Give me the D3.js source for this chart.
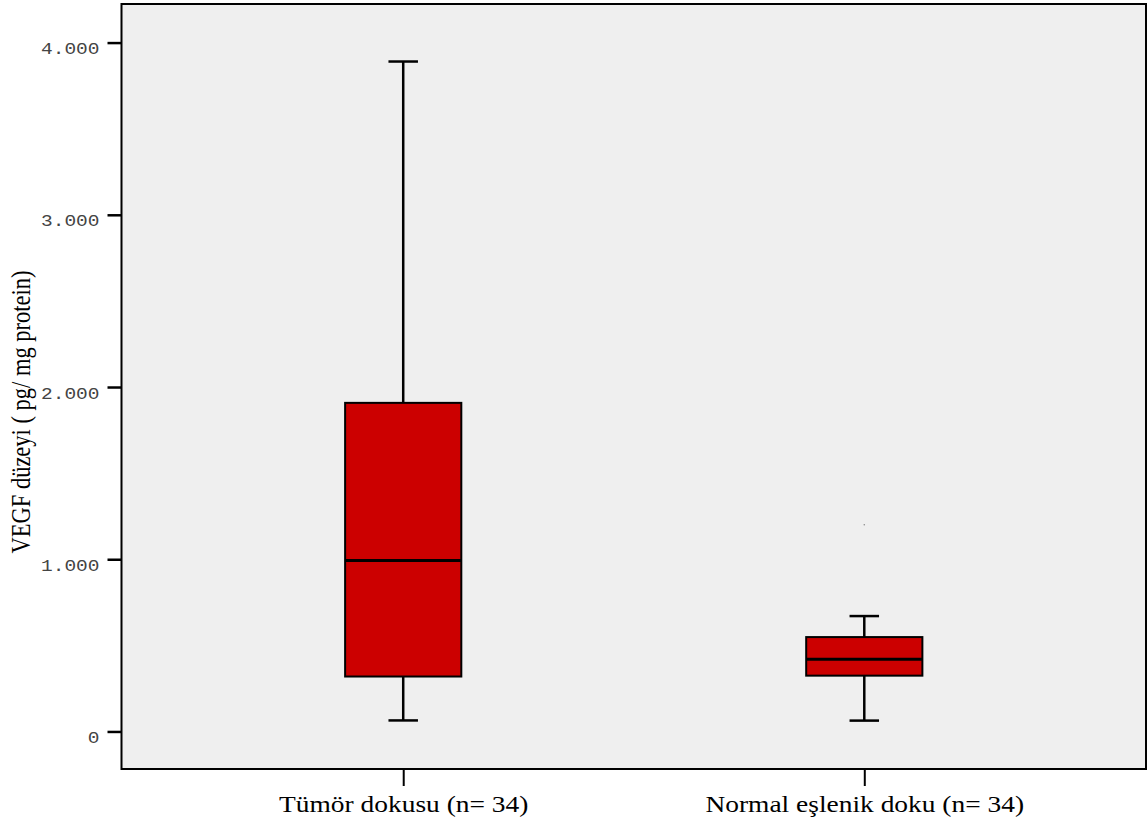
<!DOCTYPE html>
<html>
<head>
<meta charset="utf-8">
<script src="https://cdn.jsdelivr.net/npm/d3@7"></script>
<style>
  html, body { margin: 0; padding: 0; background: #ffffff; }
  svg { display: block; }
</style>
</head>
<body>
<svg id="chart" width="1148" height="828"></svg>
<script>
// Groups and their box-plot summaries (VEGF, pg / mg protein)
const groups   = ["Tümör dokusu (n= 34)", "Normal eşlenik doku (n= 34)"];
const whiskLo  = [64, 63];
const q1       = [319, 324];
const medians  = [993, 419];
const q3       = [1908, 548];
const whiskHi  = [3890, 670];
const outliers = [[], [1200]];
const yTicks   = [0, 1000, 2000, 3000, 4000];
const yTitle   = "VEGF düzeyi ( pg/ mg protein)";

const stretch = 1.22;          // horizontal text stretch of the export
const frame = { left: 121.5, top: 4, right: 1146, bottom: 769 };

const svg = d3.select("#chart");

const x = d3.scalePoint()
  .domain(groups)
  .range([frame.left, frame.right])
  .padding(0.611);

const y = d3.scaleLinear()
  .domain([-218, 4224])
  .range([frame.bottom, frame.top]);

const fmt = d3.formatLocale({ decimal: ",", thousands: ".", grouping: [3], currency: ["", ""] }).format(",d");

// plot area
svg.append("rect")
  .attr("x", frame.left).attr("y", frame.top)
  .attr("width", frame.right - frame.left)
  .attr("height", frame.bottom - frame.top)
  .attr("fill", "#efefef");

const boxW = x.step() * 0.252;
const capW = 29.5;

const rows = groups.map((g, i) => ({
  g, lo: whiskLo[i], q1: q1[i], med: medians[i], q3: q3[i], hi: whiskHi[i], out: outliers[i]
}));

const box = svg.append("g").selectAll("g").data(rows).join("g")
  .attr("transform", d => `translate(${x(d.g)},0)`);

// whisker stems
box.append("line")
  .attr("x1", 0).attr("x2", 0)
  .attr("y1", d => y(d.q3)).attr("y2", d => y(d.hi))
  .attr("stroke", "#000").attr("stroke-width", 2.5);
box.append("line")
  .attr("x1", 0).attr("x2", 0)
  .attr("y1", d => y(d.q1)).attr("y2", d => y(d.lo))
  .attr("stroke", "#000").attr("stroke-width", 2.5);

// whisker caps
box.selectAll("line.cap").data(d => [d.lo, d.hi]).join("line")
  .attr("class", "cap")
  .attr("x1", -capW / 2).attr("x2", capW / 2)
  .attr("y1", v => y(v)).attr("y2", v => y(v))
  .attr("stroke", "#000").attr("stroke-width", 2.5);

// boxes
box.append("rect")
  .attr("x", -boxW / 2).attr("width", boxW)
  .attr("y", d => y(d.q3))
  .attr("height", d => y(d.q1) - y(d.q3))
  .attr("fill", "#cc0000")
  .attr("stroke", "#000").attr("stroke-width", 2);

// medians
box.append("line")
  .attr("x1", -boxW / 2).attr("x2", boxW / 2)
  .attr("y1", d => y(d.med)).attr("y2", d => y(d.med))
  .attr("stroke", "#000").attr("stroke-width", 3);

// outliers
box.selectAll("circle").data(d => d.out).join("circle")
  .attr("cx", 0).attr("cy", v => y(v)).attr("r", 0.8)
  .attr("fill", "#8a8a8a");

// frame
svg.append("rect")
  .attr("x", frame.left).attr("y", frame.top)
  .attr("width", frame.right - frame.left)
  .attr("height", frame.bottom - frame.top)
  .attr("fill", "none")
  .attr("stroke", "#000").attr("stroke-width", 2);

// y axis
const yAxis = svg.append("g")
  .attr("transform", `translate(${frame.left},0)`)
  .call(d3.axisLeft(y).tickValues(yTicks).tickFormat(fmt).tickSize(14));
yAxis.select(".domain").remove();
yAxis.selectAll(".tick line").attr("stroke", "#000").attr("stroke-width", 2.5);
yAxis.selectAll(".tick text")
  .attr("x", null).attr("dy", null)
  .attr("text-anchor", "end")
  .attr("transform", `translate(-22,11) scale(${stretch},1)`)
  .attr("font-family", "'Liberation Mono', 'Courier New', monospace")
  .attr("font-size", 16)
  .attr("fill", "#444");

// x axis
const xAxis = svg.append("g")
  .attr("transform", `translate(0,${frame.bottom})`)
  .call(d3.axisBottom(x).tickSize(17));
xAxis.select(".domain").remove();
xAxis.selectAll(".tick line").attr("stroke", "#000").attr("stroke-width", 2);
xAxis.selectAll(".tick text")
  .attr("y", null).attr("dy", null)
  .attr("transform", `translate(0,43) scale(${stretch},1)`)
  .attr("text-anchor", "middle")
  .attr("font-family", "'Liberation Serif', 'Times New Roman', serif")
  .attr("font-size", 22.5)
  .attr("fill", "#000");

// y axis title
svg.append("text")
  .attr("transform", `translate(30,412) scale(${stretch},1) rotate(-90)`)
  .attr("text-anchor", "middle")
  .attr("font-family", "'Liberation Serif', 'Times New Roman', serif")
  .attr("font-size", 22.5)
  .attr("fill", "#000")
  .text(yTitle);
</script>
</body>
</html>
